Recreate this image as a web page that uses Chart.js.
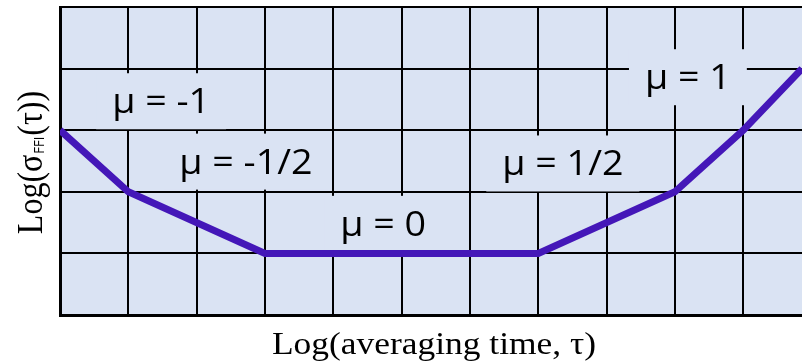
<!DOCTYPE html>
<html>
<head>
<meta charset="utf-8">
<script src="https://cdn.jsdelivr.net/npm/chart.js@4/dist/chart.umd.min.js"></script>
<style>
  html, body { margin: 0; padding: 0; background: #fff; }
  canvas { display: block; }
</style>
</head>
<body>
<canvas id="slopeChart" width="802" height="362"></canvas>
<script>
// log-log sketch of sigma(tau): straight segments, one per noise slope
const tauLog   = [0, 1, 3, 7, 9, 10, 10.86];
const sigmaLog = [3, 2, 1, 1, 2, 3, 4];

// slope labels and where they sit (data units)
const muLabels = ['μ = -1', 'μ = -1/2', 'μ = 0', 'μ = 1/2', 'μ = 1'];
const muAtX    = [1.48, 2.72, 4.73, 7.36, 9.19];
const muAtY    = [3.47, 2.49, 1.48, 2.46, 3.86];

const xTitle = 'Log(averaging time, τ)';
const yTitleParts = ['Log(σ', 'FFI', '(τ))'];

const PLOT_BG = '#dae3f3';
const LINE_COLOR = '#4417b8';
const STRETCH = 1.107;   // picture is a bit wider than tall

const plotBg = {
  id: 'plotBg',
  beforeDraw(chart) {
    const { ctx, chartArea: a } = chart;
    ctx.save();
    ctx.fillStyle = PLOT_BG;
    ctx.fillRect(a.left, a.top, a.right - a.left, a.bottom - a.top);
    ctx.restore();
  }
};

// text boxes with plot colour fill, so they hide the grid behind them
const muBoxes = {
  id: 'muBoxes',
  beforeDatasetsDraw(chart) {
    const { ctx, scales: { x, y } } = chart;
    ctx.save();
    ctx.font = '500 34px "Open Sans"';
    muLabels.forEach((txt, i) => {
      const cx = x.getPixelForValue(muAtX[i]);
      const cy = y.getPixelForValue(muAtY[i]);
      const w = ctx.measureText(txt).width * STRETCH;
      const pad = 16, h = 56;
      ctx.fillStyle = PLOT_BG;
      ctx.fillRect(cx - w / 2 - pad, cy - h / 2, w + pad * 2, h);
      ctx.save();
      ctx.translate(cx, cy + 12);
      ctx.scale(STRETCH, 1);
      ctx.fillStyle = '#000';
      ctx.textAlign = 'center';
      ctx.textBaseline = 'alphabetic';
      ctx.fillText(txt, 0, 0);
      ctx.restore();
    });
    ctx.restore();
  }
};

const axisTitles = {
  id: 'axisTitles',
  afterDraw(chart) {
    const { ctx, chartArea: a } = chart;
    ctx.save();
    ctx.fillStyle = '#000';

    // x title
    ctx.save();
    ctx.translate(434, a.bottom + 39);
    ctx.scale(STRETCH, 1);
    ctx.font = '32px "Liberation Serif"';
    ctx.textAlign = 'center';
    ctx.fillText(xTitle, 0, 0);
    ctx.restore();

    // y title, with FFI as subscript
    const mainFont = '32px "Liberation Serif"';
    const subFont = '13px "Open Sans"';
    ctx.font = mainFont;
    const w0 = ctx.measureText(yTitleParts[0]).width;
    const w2 = ctx.measureText(yTitleParts[2]).width;
    ctx.font = subFont;
    const w1 = ctx.measureText(yTitleParts[1]).width + 2;
    const total = w0 + w1 + w2;

    ctx.translate(a.left - 18, 162.5);
    ctx.scale(STRETCH, 1);
    ctx.rotate(-Math.PI / 2);
    ctx.textAlign = 'left';
    let pos = -total / 2;
    ctx.font = mainFont;
    ctx.fillText(yTitleParts[0], pos, 0);
    pos += w0 + 1;
    ctx.font = subFont;
    ctx.fillText(yTitleParts[1], pos, 2);
    pos += w1 - 1;
    ctx.font = mainFont;
    ctx.fillText(yTitleParts[2], pos, 0);
    ctx.restore();
  }
};

const wholeOnly = (c) => (Number.isInteger(c.tick.value) ? '#000' : 'rgba(0,0,0,0)');

new Chart(document.getElementById('slopeChart'), {
  type: 'line',
  data: {
    datasets: [{
      data: tauLog.map((t, i) => ({ x: t, y: sigmaLog[i] })),
      borderColor: LINE_COLOR,
      borderWidth: 7,
      pointRadius: 0,
      borderJoinStyle: 'miter',
      tension: 0
    }]
  },
  options: {
    responsive: false,
    animation: false,
    devicePixelRatio: 1,
    layout: { padding: { left: 60, top: 7, right: 0, bottom: 47 } },
    plugins: { legend: { display: false }, tooltip: { enabled: false } },
    scales: {
      x: {
        type: 'linear',
        min: 0,
        max: 10.86,
        ticks: { display: false, stepSize: 1 },
        grid: { color: wholeOnly, lineWidth: 2, drawTicks: false },
        border: { display: true, color: '#000', width: 3 }
      },
      y: {
        type: 'linear',
        min: 0,
        max: 5,
        ticks: { display: false, stepSize: 1 },
        grid: { color: '#000', lineWidth: 2, drawTicks: false },
        border: { display: true, color: '#000', width: 3 }
      }
    }
  },
  plugins: [plotBg, muBoxes, axisTitles]
});
</script>
</body>
</html>
